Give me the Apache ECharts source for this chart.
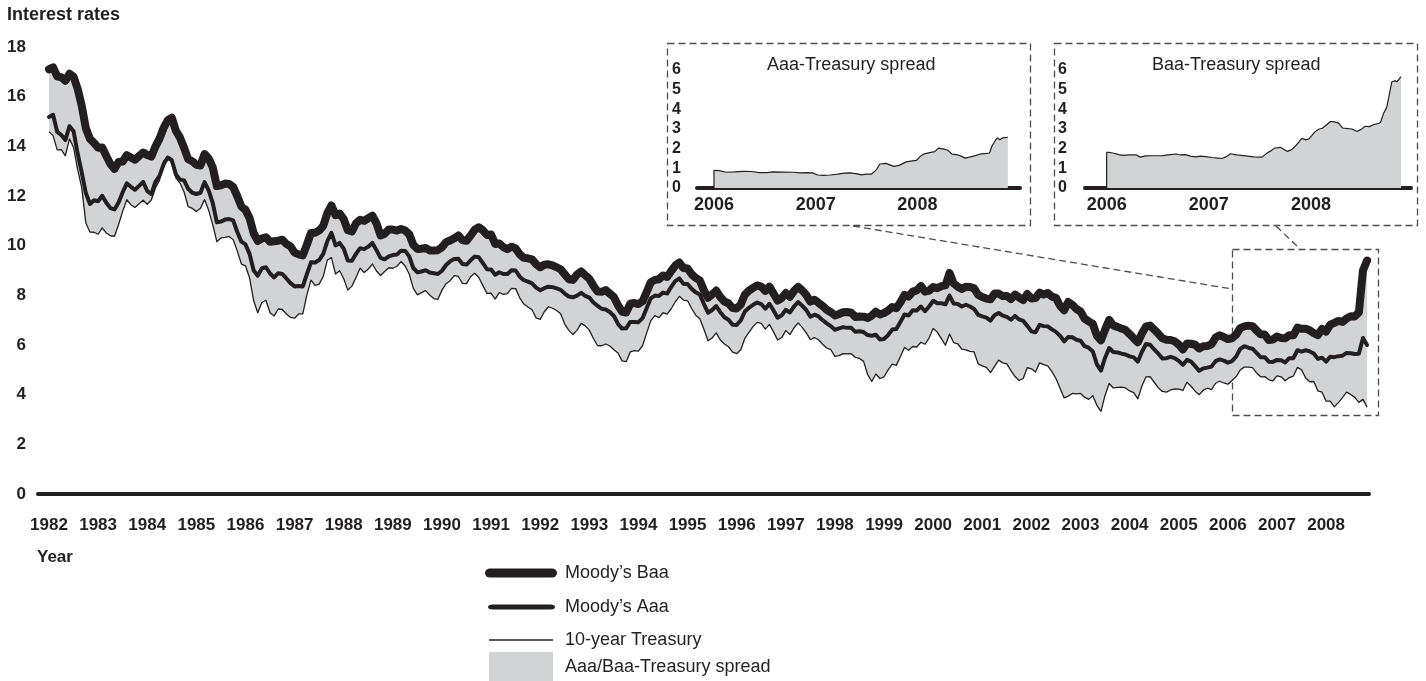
<!DOCTYPE html>
<html>
<head>
<meta charset="utf-8">
<title>Interest rates</title>
<script src="https://cdn.jsdelivr.net/npm/echarts@6/dist/echarts.min.js"></script>
<style>
  html, body { margin: 0; padding: 0; background: #fff; }
  #chart { width: 1426px; height: 681px; }
</style>
</head>
<body>
<div id="chart"></div>
<script>
var fontFamily = '"Liberation Sans", Arial, Helvetica, sans-serif';
var ink = "#231f20";
var spreadGray = "#d1d3d4";
var boxStroke = "#4d4d4d";

// monthly values, Jan 1982 .. Nov 2008
var startYear = 1982;
var baa = [
  17.10, 17.18, 16.82, 16.78, 16.64, 16.92, 16.80, 16.32, 15.63, 14.73, 14.30, 14.14,
  13.94, 13.95, 13.61, 13.29, 13.09, 13.37, 13.39, 13.64, 13.55, 13.46, 13.61, 13.75,
  13.65, 13.59, 13.99, 14.31, 14.74, 15.05, 15.15, 14.63, 14.35, 13.94, 13.48, 13.40,
  13.26, 13.23, 13.69, 13.51, 13.15, 12.40, 12.43, 12.50, 12.48, 12.36, 11.99, 11.58,
  11.44, 11.11, 10.50, 10.19, 10.29, 10.34, 10.16, 10.18, 10.20, 10.24, 10.07, 9.97,
  9.72, 9.65, 9.61, 10.04, 10.51, 10.52, 10.61, 10.80, 11.31, 11.62, 11.23, 11.29,
  11.07, 10.62, 10.57, 10.90, 11.04, 11.00, 11.11, 11.21, 10.90, 10.41, 10.48, 10.65,
  10.65, 10.61, 10.67, 10.61, 10.46, 10.03, 9.87, 9.88, 9.91, 9.81, 9.81, 9.82,
  9.94, 10.14, 10.21, 10.30, 10.41, 10.22, 10.20, 10.41, 10.64, 10.74, 10.62, 10.43,
  10.45, 10.07, 10.09, 9.94, 9.86, 9.96, 9.89, 9.65, 9.51, 9.49, 9.45, 9.26,
  9.13, 9.23, 9.25, 9.21, 9.13, 9.05, 8.84, 8.65, 8.62, 8.84, 8.96, 8.81,
  8.67, 8.39, 8.15, 8.14, 8.21, 8.07, 7.93, 7.60, 7.34, 7.31, 7.66, 7.69,
  7.65, 7.76, 8.13, 8.52, 8.62, 8.65, 8.80, 8.74, 8.98, 9.20, 9.32, 9.10,
  9.08, 8.85, 8.70, 8.60, 8.20, 7.90, 8.04, 8.19, 7.93, 7.75, 7.68, 7.49,
  7.47, 7.63, 8.03, 8.19, 8.30, 8.40, 8.35, 8.18, 8.35, 8.07, 7.79, 7.89,
  8.09, 7.94, 8.18, 8.34, 8.20, 8.02, 7.75, 7.82, 7.70, 7.57, 7.42, 7.32,
  7.19, 7.25, 7.32, 7.33, 7.30, 7.13, 7.15, 7.14, 7.09, 7.18, 7.34, 7.23,
  7.29, 7.39, 7.53, 7.48, 7.72, 8.02, 7.95, 8.15, 8.20, 8.38, 8.15, 8.19,
  8.33, 8.29, 8.37, 8.40, 8.90, 8.48, 8.35, 8.26, 8.35, 8.34, 8.28, 8.02,
  7.93, 7.87, 7.84, 8.07, 8.07, 7.97, 7.97, 7.85, 8.03, 7.91, 7.81, 8.05,
  7.87, 7.89, 8.11, 8.03, 8.09, 7.95, 7.90, 7.58, 7.40, 7.73, 7.62, 7.45,
  7.35, 7.06, 6.95, 6.85, 6.38, 6.19, 6.62, 7.01, 6.79, 6.73, 6.66, 6.60,
  6.44, 6.27, 6.11, 6.46, 6.75, 6.78, 6.62, 6.46, 6.27, 6.21, 6.20, 6.15,
  6.02, 5.82, 6.06, 6.05, 6.01, 5.86, 5.95, 5.96, 6.03, 6.30, 6.39, 6.32,
  6.24, 6.27, 6.41, 6.68, 6.75, 6.78, 6.76, 6.59, 6.43, 6.42, 6.20, 6.22,
  6.34, 6.28, 6.27, 6.39, 6.39, 6.70, 6.65, 6.65, 6.59, 6.48, 6.40, 6.65,
  6.54, 6.82, 6.89, 6.97, 6.93, 7.07, 7.16, 7.15, 7.31, 9.00, 9.40
];
var aaa = [
  15.18, 15.27, 14.58, 14.46, 14.26, 14.81, 14.61, 13.71, 12.94, 12.12, 11.68, 11.83,
  11.79, 12.01, 11.73, 11.51, 11.46, 11.74, 12.15, 12.51, 12.37, 12.25, 12.41, 12.57,
  12.20, 12.08, 12.57, 12.81, 13.28, 13.55, 13.44, 12.87, 12.66, 12.63, 12.29, 12.13,
  12.08, 12.13, 12.56, 12.23, 11.72, 10.94, 10.97, 11.05, 11.07, 11.02, 10.55, 10.16,
  10.05, 9.67, 9.00, 8.79, 9.09, 9.13, 8.88, 8.72, 8.89, 8.86, 8.68, 8.49,
  8.36, 8.38, 8.36, 8.85, 9.33, 9.32, 9.42, 9.67, 10.18, 10.52, 10.01, 10.11,
  9.88, 9.40, 9.39, 9.67, 9.90, 9.86, 9.96, 10.11, 9.82, 9.51, 9.45, 9.57,
  9.62, 9.64, 9.80, 9.79, 9.57, 9.10, 8.93, 8.96, 9.01, 8.92, 8.89, 8.86,
  8.99, 9.22, 9.37, 9.46, 9.47, 9.26, 9.24, 9.41, 9.56, 9.53, 9.30, 9.05,
  9.04, 8.83, 8.93, 8.86, 8.86, 9.01, 9.00, 8.75, 8.61, 8.55, 8.48, 8.31,
  8.20, 8.29, 8.35, 8.33, 8.28, 8.22, 8.07, 7.95, 7.92, 7.99, 8.10, 7.98,
  7.91, 7.71, 7.58, 7.46, 7.43, 7.33, 7.17, 6.85, 6.66, 6.67, 6.93, 6.93,
  6.92, 7.08, 7.48, 7.88, 7.99, 7.97, 8.11, 8.07, 8.34, 8.57, 8.68, 8.46,
  8.46, 8.26, 8.12, 8.03, 7.65, 7.30, 7.41, 7.57, 7.32, 7.12, 7.02, 6.82,
  6.81, 6.99, 7.35, 7.50, 7.62, 7.71, 7.65, 7.46, 7.66, 7.39, 7.10, 7.20,
  7.42, 7.31, 7.55, 7.73, 7.58, 7.41, 7.14, 7.22, 7.15, 7.00, 6.87, 6.76,
  6.61, 6.67, 6.72, 6.69, 6.69, 6.53, 6.55, 6.52, 6.40, 6.37, 6.41, 6.22,
  6.24, 6.40, 6.62, 6.64, 6.93, 7.23, 7.19, 7.40, 7.39, 7.55, 7.36, 7.55,
  7.78, 7.68, 7.68, 7.64, 7.99, 7.67, 7.65, 7.55, 7.62, 7.55, 7.45, 7.21,
  7.15, 7.10, 6.98, 7.20, 7.29, 7.18, 7.13, 7.02, 7.17, 7.03, 6.97, 6.77,
  6.55, 6.51, 6.81, 6.76, 6.75, 6.63, 6.53, 6.37, 6.15, 6.32, 6.31, 6.21,
  6.17, 5.95, 5.89, 5.74, 5.22, 4.97, 5.49, 5.88, 5.72, 5.70, 5.65, 5.62,
  5.54, 5.50, 5.33, 5.73, 6.04, 6.01, 5.82, 5.65, 5.46, 5.47, 5.52, 5.47,
  5.36, 5.20, 5.40, 5.33, 5.15, 4.96, 5.06, 5.09, 5.13, 5.35, 5.42, 5.37,
  5.29, 5.35, 5.53, 5.84, 5.95, 5.89, 5.85, 5.68, 5.51, 5.51, 5.33, 5.32,
  5.40, 5.39, 5.30, 5.47, 5.47, 5.79, 5.73, 5.79, 5.74, 5.66, 5.44, 5.49,
  5.33, 5.53, 5.51, 5.55, 5.57, 5.68, 5.67, 5.64, 5.65, 6.28, 6.00
];
var tsy = [
  14.59, 14.43, 13.86, 13.87, 13.62, 14.30, 13.95, 13.06, 12.34, 10.91, 10.55, 10.54,
  10.46, 10.72, 10.51, 10.40, 10.38, 10.85, 11.38, 11.85, 11.65, 11.54, 11.69, 11.83,
  11.67, 11.84, 12.32, 12.63, 13.41, 13.56, 13.36, 12.72, 12.52, 12.16, 11.57, 11.50,
  11.38, 11.51, 11.86, 11.43, 10.85, 10.16, 10.31, 10.33, 10.37, 10.24, 9.78, 9.26,
  9.19, 8.70, 7.78, 7.30, 7.71, 7.80, 7.30, 7.17, 7.45, 7.43, 7.25, 7.11,
  7.08, 7.25, 7.25, 8.02, 8.61, 8.40, 8.45, 8.76, 9.42, 9.52, 8.86, 8.99,
  8.67, 8.21, 8.37, 8.72, 9.09, 8.92, 9.06, 9.26, 8.98, 8.80, 8.96, 9.11,
  9.09, 9.17, 9.36, 9.18, 8.86, 8.28, 8.02, 8.11, 8.19, 8.01, 7.87, 7.84,
  8.21, 8.47, 8.59, 8.79, 8.76, 8.48, 8.47, 8.75, 8.89, 8.72, 8.39, 8.08,
  8.09, 7.85, 8.11, 8.04, 8.07, 8.28, 8.27, 7.90, 7.65, 7.53, 7.42, 7.09,
  7.03, 7.34, 7.54, 7.48, 7.39, 7.26, 6.84, 6.59, 6.42, 6.59, 6.87, 6.77,
  6.60, 6.26, 5.98, 5.97, 6.04, 5.96, 5.81, 5.68, 5.36, 5.33, 5.72, 5.77,
  5.75, 5.97, 6.48, 6.97, 7.18, 7.10, 7.30, 7.24, 7.46, 7.74, 7.96, 7.81,
  7.78, 7.47, 7.20, 7.06, 6.63, 6.17, 6.28, 6.49, 6.20, 6.04, 5.93, 5.71,
  5.65, 5.81, 6.27, 6.51, 6.74, 6.91, 6.87, 6.64, 6.83, 6.53, 6.20, 6.30,
  6.58, 6.42, 6.69, 6.89, 6.71, 6.49, 6.22, 6.30, 6.21, 6.03, 5.88, 5.81,
  5.54, 5.57, 5.65, 5.64, 5.65, 5.50, 5.46, 5.34, 4.81, 4.53, 4.83, 4.65,
  4.72, 5.00, 5.23, 5.18, 5.54, 5.90, 5.79, 5.94, 5.92, 6.11, 6.03, 6.28,
  6.66, 6.52, 6.26, 5.99, 6.44, 6.10, 6.05, 5.83, 5.80, 5.74, 5.72, 5.24,
  5.16, 5.10, 4.89, 5.14, 5.39, 5.28, 5.24, 4.97, 4.73, 4.57, 4.65, 5.09,
  5.04, 4.91, 5.28, 5.21, 5.16, 4.93, 4.65, 4.26, 3.87, 3.94, 4.05, 4.03,
  4.05, 3.90, 3.81, 3.96, 3.57, 3.33, 3.98, 4.45, 4.27, 4.29, 4.30, 4.27,
  4.15, 4.08, 3.83, 4.35, 4.72, 4.73, 4.50, 4.28, 4.13, 4.10, 4.19, 4.23,
  4.22, 4.17, 4.50, 4.34, 4.14, 4.00, 4.18, 4.26, 4.20, 4.46, 4.54, 4.47,
  4.42, 4.57, 4.72, 4.99, 5.11, 5.11, 5.09, 4.88, 4.72, 4.73, 4.60, 4.56,
  4.76, 4.72, 4.56, 4.69, 4.75, 5.10, 5.00, 4.67, 4.52, 4.53, 4.15, 4.10,
  3.74, 3.74, 3.51, 3.68, 3.88, 4.10, 4.01, 3.89, 3.69, 3.81, 3.50
];

var yearTicks = [1982, 1983, 1984, 1985, 1986, 1987, 1988, 1989, 1990, 1991, 1992, 1993, 1994,
  1995, 1996, 1997, 1998, 1999, 2000, 2001, 2002, 2003, 2004, 2005, 2006, 2007, 2008];
var insetTicks = [2006, 2007, 2008];

// inset spreads (fractional year, percentage points)
var aaaSpreadT = [2006.00, 2006.05, 2006.12, 2006.20, 2006.29, 2006.37, 2006.45, 2006.52, 2006.58,
  2006.68, 2006.78, 2006.85, 2006.91, 2006.97, 2007.02, 2007.08, 2007.14, 2007.22, 2007.28,
  2007.34, 2007.41, 2007.45, 2007.50, 2007.55, 2007.60, 2007.63, 2007.69, 2007.77, 2007.82,
  2007.89, 2007.95, 2007.99, 2008.03, 2008.06, 2008.12, 2008.17, 2008.21, 2008.26, 2008.30,
  2008.34, 2008.40, 2008.43, 2008.47, 2008.52, 2008.57, 2008.63, 2008.68, 2008.71, 2008.73,
  2008.77, 2008.79, 2008.81, 2008.84, 2008.89];
var aaaSpreadV = [0.90, 0.88, 0.80, 0.82, 0.85, 0.84, 0.78, 0.78, 0.82,
  0.81, 0.80, 0.77, 0.78, 0.77, 0.66, 0.64, 0.66, 0.71, 0.76,
  0.77, 0.72, 0.67, 0.71, 0.71, 0.95, 1.22, 1.25, 1.10, 1.15,
  1.33, 1.38, 1.40, 1.62, 1.72, 1.80, 1.85, 2.03, 1.98, 1.92,
  1.72, 1.68, 1.62, 1.52, 1.58, 1.65, 1.74, 1.76, 1.78, 2.10,
  2.45, 2.55, 2.45, 2.55, 2.58];
var baaSpreadT = [2006.00, 2006.06, 2006.12, 2006.16, 2006.22, 2006.29, 2006.33, 2006.38, 2006.45,
  2006.55, 2006.62, 2006.68, 2006.72, 2006.77, 2006.82, 2006.87, 2006.92, 2006.97, 2007.03,
  2007.09, 2007.13, 2007.18, 2007.21, 2007.27, 2007.36, 2007.44, 2007.52, 2007.57, 2007.61,
  2007.64, 2007.70, 2007.74, 2007.77, 2007.81, 2007.86, 2007.91, 2007.95, 2007.98, 2008.04,
  2008.08, 2008.11, 2008.15, 2008.19, 2008.23, 2008.27, 2008.31, 2008.36, 2008.40, 2008.45,
  2008.49, 2008.53, 2008.57, 2008.61, 2008.66, 2008.68, 2008.71, 2008.74, 2008.76, 2008.79,
  2008.82, 2008.84, 2008.88];
var baaSpreadV = [1.82, 1.78, 1.70, 1.66, 1.68, 1.68, 1.57, 1.63, 1.64,
  1.65, 1.70, 1.73, 1.68, 1.70, 1.62, 1.58, 1.62, 1.60, 1.55,
  1.52, 1.50, 1.62, 1.74, 1.68, 1.63, 1.58, 1.57, 1.78, 1.90,
  2.02, 2.07, 1.95, 1.86, 1.95, 2.20, 2.52, 2.45, 2.50, 2.87,
  3.00, 3.04, 3.20, 3.38, 3.36, 3.30, 3.05, 3.02, 3.00, 2.87,
  2.98, 3.14, 3.12, 3.22, 3.28, 3.34, 3.80, 4.10, 4.60, 5.40,
  5.45, 5.40, 5.66];

var monthX = baa.map(function (v, i) { return startYear + i / 12; });

function pairs(xs, ys) {
  return ys.map(function (v, i) { return [xs[i], v]; });
}

var pill = "path://M5,0H67A5,5 0 0 1 67,10H5A5,5 0 0 1 5,0Z";

function xAxisCfg(grid, min, max, ticks, size, margin) {
  return {
    type: "value", gridIndex: grid, min: min, max: max,
    axisLine: { show: true, lineStyle: { color: ink, width: 4, cap: "round" } },
    axisTick: { show: false },
    splitLine: { show: false },
    axisLabel: {
      customValues: ticks, margin: margin, color: ink, fontFamily: fontFamily,
      fontSize: size, fontWeight: "bold",
      formatter: function (v) { return String(Math.round(v)); }
    }
  };
}
function yAxisCfg(grid, max, interval, size, margin) {
  return {
    type: "value", gridIndex: grid, min: 0, max: max, interval: interval,
    axisLine: { show: false }, axisTick: { show: false }, splitLine: { show: false },
    axisLabel: { margin: margin, color: ink, fontFamily: fontFamily, fontSize: size, fontWeight: "bold" }
  };
}
function legendCfg(name, icon, left, top, w, h, gap, color) {
  var item = { name: name, icon: icon };
  if (color) item.itemStyle = { color: color };
  return {
    data: [item], left: left, top: top, padding: 0,
    itemWidth: w, itemHeight: h, selectedMode: false, symbolKeepAspect: false,
    itemStyle: { borderWidth: 0 },
    textStyle: { color: ink, fontFamily: fontFamily, fontSize: 18, padding: [0, 0, 0, gap] }
  };
}
function dashed(shape, type) {
  return { type: type, silent: true, shape: shape,
    style: { fill: "none", stroke: boxStroke, lineWidth: 1.3, lineDash: [7, 4] } };
}

var chart = echarts.init(document.getElementById("chart"));

var option = {
  backgroundColor: "#fff",
  animation: false,
  title: [
    { text: "Interest rates", left: 7, top: 6, padding: 0,
      textStyle: { color: ink, fontFamily: fontFamily, fontSize: 18, fontWeight: "bold" } },
    { text: "Year", left: 37, top: 549, padding: 0,
      textStyle: { color: ink, fontFamily: fontFamily, fontSize: 17, fontWeight: "bold" } },
    { text: "Aaa-Treasury spread", left: 767, top: 56, padding: 0,
      textStyle: { color: ink, fontFamily: fontFamily, fontSize: 18, fontWeight: "normal" } },
    { text: "Baa-Treasury spread", left: 1152, top: 56, padding: 0,
      textStyle: { color: ink, fontFamily: fontFamily, fontSize: 18, fontWeight: "normal" } }
  ],
  legend: [
    legendCfg("Moody\u2019s Baa", pill, 485, 564, 72, 9, 3),
    legendCfg("Moody\u2019s Aaa", pill, 488, 598, 67, 5, 5),
    legendCfg("10-year Treasury", "rect", 489, 631, 64, 1.3, 7),
    legendCfg("Aaa/Baa-Treasury spread", "rect", 489, 652, 64, 30, 7, spreadGray)
  ],
  grid: [
    { left: 38, top: 47, width: 1331, height: 447 },
    { left: 697, top: 70, width: 323, height: 118 },
    { left: 1085, top: 70, width: 326, height: 118 }
  ],
  xAxis: [
    xAxisCfg(0, 1981.776, 2008.873, yearTicks, 17, 23),
    xAxisCfg(1, 2005.833, 2009.009, insetTicks, 18, 8),
    xAxisCfg(2, 2005.788, 2008.978, insetTicks, 18, 8)
  ],
  yAxis: [
    yAxisCfg(0, 18, 2, 17, 12),
    yAxisCfg(1, 6, 1, 16, 16),
    yAxisCfg(2, 6, 1, 16, 18)
  ],
  series: [
    {
      name: "Aaa/Baa-Treasury spread", type: "custom", xAxisIndex: 0, yAxisIndex: 0,
      z: 1, silent: true, itemStyle: { color: spreadGray },
      data: [[monthX[0], baa[0]]],
      renderItem: function (params, api) {
        var pts = [];
        for (var i = 0; i < baa.length; i++) pts.push(api.coord([monthX[i], baa[i]]));
        for (var j = tsy.length - 1; j >= 0; j--) pts.push(api.coord([monthX[j], tsy[j]]));
        return { type: "polygon", shape: { points: pts }, style: { fill: spreadGray } };
      }
    },
    {
      name: "10-year Treasury", type: "line", xAxisIndex: 0, yAxisIndex: 0, z: 3,
      symbol: "none", color: ink, data: pairs(monthX, tsy),
      lineStyle: { color: ink, width: 1.3, join: "round" }
    },
    {
      name: "Moody\u2019s Aaa", type: "line", xAxisIndex: 0, yAxisIndex: 0, z: 4,
      symbol: "none", color: ink, data: pairs(monthX, aaa),
      lineStyle: { color: ink, width: 4, cap: "round", join: "round" }
    },
    {
      name: "Moody\u2019s Baa", type: "line", xAxisIndex: 0, yAxisIndex: 0, z: 5,
      symbol: "none", color: ink, data: pairs(monthX, baa),
      lineStyle: { color: ink, width: 8, cap: "round", join: "round" }
    },
    {
      name: "Aaa-Treasury spread", type: "line", xAxisIndex: 1, yAxisIndex: 1, z: 3,
      symbol: "none", color: ink, data: pairs(aaaSpreadT, aaaSpreadV),
      lineStyle: { color: ink, width: 1.2 },
      areaStyle: { color: spreadGray, opacity: 1 }
    },
    {
      name: "Aaa-Treasury start", type: "line", xAxisIndex: 1, yAxisIndex: 1, z: 3,
      symbol: "none", data: [[aaaSpreadT[0], 0], [aaaSpreadT[0], aaaSpreadV[0]]],
      lineStyle: { color: ink, width: 1.2 }
    },
    {
      name: "Baa-Treasury spread", type: "line", xAxisIndex: 2, yAxisIndex: 2, z: 3,
      symbol: "none", color: ink, data: pairs(baaSpreadT, baaSpreadV),
      lineStyle: { color: ink, width: 1.2 },
      areaStyle: { color: spreadGray, opacity: 1 }
    },
    {
      name: "Baa-Treasury start", type: "line", xAxisIndex: 2, yAxisIndex: 2, z: 3,
      symbol: "none", data: [[baaSpreadT[0], 0], [baaSpreadT[0], baaSpreadV[0]]],
      lineStyle: { color: ink, width: 1.2 }
    }
  ],
  graphic: [
    dashed({ x: 667.5, y: 43.5, width: 363, height: 182 }, "rect"),
    dashed({ x: 1054.5, y: 43.5, width: 363, height: 182 }, "rect"),
    dashed({ x: 1232.5, y: 249.5, width: 146, height: 166 }, "rect"),
    dashed({ x1: 853, y1: 226, x2: 1232, y2: 289 }, "line"),
    dashed({ x1: 1276, y1: 226, x2: 1300, y2: 249 }, "line")
  ]
};

chart.setOption(option);
window.addEventListener("resize", function () { chart.resize(); });
</script>
</body>
</html>
